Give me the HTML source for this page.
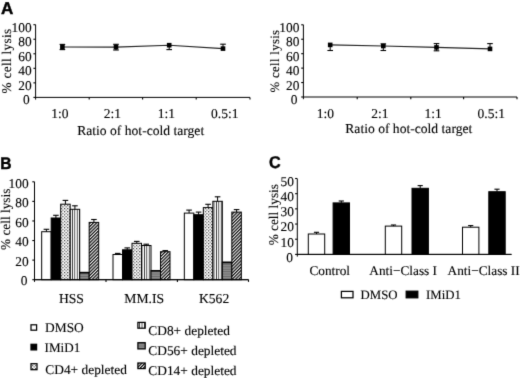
<!DOCTYPE html>
<html><head><meta charset="utf-8"><style>
html,body{margin:0;padding:0;background:#fff;}
svg{display:block;}
text{fill:#000;stroke:#000;stroke-width:0.12px;text-rendering:geometricPrecision;}
</style></head><body>
<svg width="520" height="378" viewBox="0 0 520 378">
<rect width="520" height="378" fill="#fff"/>
<defs>
<filter id="soft" filterUnits="userSpaceOnUse" x="0" y="0" width="520" height="378" color-interpolation-filters="sRGB"><feConvolveMatrix order="3" kernelMatrix="0.01134 0.08382 0.01134 0.08382 0.61935 0.08382 0.01134 0.08382 0.01134" edgeMode="duplicate"/></filter>
<pattern id="dots" patternUnits="userSpaceOnUse" width="3.2" height="3.2">
<rect width="3.2" height="3.2" fill="#fff"/>
<rect x="0" y="0" width="1.1" height="1.1" fill="#222"/>
<rect x="1.6" y="1.6" width="1.1" height="1.1" fill="#222"/>
</pattern>
<pattern id="vstripe" patternUnits="userSpaceOnUse" width="2.4" height="4">
<rect width="2.4" height="4" fill="#fff"/>
<rect x="0" y="0" width="0.8" height="4" fill="#222"/>
</pattern>
<pattern id="hstripe" patternUnits="userSpaceOnUse" width="4" height="2.4">
<rect width="4" height="2.4" fill="#8c8c8c"/>
<rect x="0" y="0" width="4" height="0.9" fill="#6a6a6a"/>
</pattern>
<pattern id="diag" patternUnits="userSpaceOnUse" width="2.3" height="2.3" patternTransform="rotate(45)">
<rect width="2.3" height="2.3" fill="#fff"/>
<rect x="0" y="0" width="1.2" height="2.3" fill="#000"/>
</pattern>
</defs>
<g filter="url(#soft)">
<text x="0.9" y="13.8" font-size="17" text-anchor="start" font-family='"Liberation Sans", sans-serif' font-weight="bold" style="stroke-width:0.45px">A</text>
<text x="0" y="0" font-size="16.8" font-family='"Liberation Sans", sans-serif' font-weight="bold" style="stroke-width:0.45px" transform="translate(0.3,169.2) scale(0.93,1)">B</text>
<text x="0" y="0" font-size="17" font-family='"Liberation Sans", sans-serif' font-weight="bold" style="stroke-width:0.45px" transform="translate(268.9,168.1) scale(0.95,1)">C</text>
<line x1="35.6" y1="24.7" x2="35.6" y2="99.60000000000001" stroke="#000" stroke-width="1.0"/>
<line x1="35.6" y1="97.4" x2="250" y2="97.4" stroke="#000" stroke-width="1.0"/>
<line x1="33.4" y1="97.4" x2="35.6" y2="97.4" stroke="#000" stroke-width="1.1"/>
<text x="29.6" y="104.4" font-size="13.4" text-anchor="end" font-family='"Liberation Serif", serif' font-weight="normal" >0</text>
<line x1="33.4" y1="82.86000000000001" x2="35.6" y2="82.86000000000001" stroke="#000" stroke-width="1.1"/>
<text x="31.6" y="89.86000000000001" font-size="13.4" text-anchor="end" font-family='"Liberation Serif", serif' font-weight="normal" >20</text>
<line x1="33.4" y1="68.32000000000001" x2="35.6" y2="68.32000000000001" stroke="#000" stroke-width="1.1"/>
<text x="31.6" y="75.32000000000001" font-size="13.4" text-anchor="end" font-family='"Liberation Serif", serif' font-weight="normal" >40</text>
<line x1="33.4" y1="53.78000000000001" x2="35.6" y2="53.78000000000001" stroke="#000" stroke-width="1.1"/>
<text x="31.6" y="60.78000000000001" font-size="13.4" text-anchor="end" font-family='"Liberation Serif", serif' font-weight="normal" >60</text>
<line x1="33.4" y1="39.24000000000001" x2="35.6" y2="39.24000000000001" stroke="#000" stroke-width="1.1"/>
<text x="31.6" y="46.24000000000001" font-size="13.4" text-anchor="end" font-family='"Liberation Serif", serif' font-weight="normal" >80</text>
<line x1="33.4" y1="24.700000000000017" x2="35.6" y2="24.700000000000017" stroke="#000" stroke-width="1.1"/>
<text x="31.6" y="31.700000000000017" font-size="13.4" text-anchor="end" font-family='"Liberation Serif", serif' font-weight="normal" >100</text>
<line x1="89.2" y1="97.4" x2="89.2" y2="99.60000000000001" stroke="#000" stroke-width="1.1"/>
<line x1="142.6" y1="97.4" x2="142.6" y2="99.60000000000001" stroke="#000" stroke-width="1.1"/>
<line x1="196.2" y1="97.4" x2="196.2" y2="99.60000000000001" stroke="#000" stroke-width="1.1"/>
<line x1="250" y1="97.4" x2="250" y2="99.60000000000001" stroke="#000" stroke-width="1.1"/>
<path d="M62.4,47.0 L116.0,47.1 L169.2,45.2 L223.0,48.6" fill="none" stroke="#222" stroke-width="1.1"/>
<line x1="62.4" y1="44.4" x2="62.4" y2="47.0" stroke="#000" stroke-width="1.0"/>
<line x1="59.6" y1="44.4" x2="65.2" y2="44.4" stroke="#000" stroke-width="1.1"/>
<line x1="62.4" y1="47.0" x2="62.4" y2="49.6" stroke="#000" stroke-width="1.0"/>
<line x1="59.6" y1="49.6" x2="65.2" y2="49.6" stroke="#000" stroke-width="1.1"/>
<rect x="60.1" y="44.7" width="4.6" height="4.6" fill="#000"/>
<line x1="116.0" y1="44.3" x2="116.0" y2="47.1" stroke="#000" stroke-width="1.0"/>
<line x1="113.2" y1="44.3" x2="118.8" y2="44.3" stroke="#000" stroke-width="1.1"/>
<line x1="116.0" y1="47.1" x2="116.0" y2="50.0" stroke="#000" stroke-width="1.0"/>
<line x1="113.2" y1="50.0" x2="118.8" y2="50.0" stroke="#000" stroke-width="1.1"/>
<rect x="113.7" y="44.800000000000004" width="4.6" height="4.6" fill="#000"/>
<line x1="169.2" y1="45.2" x2="169.2" y2="49.6" stroke="#000" stroke-width="1.0"/>
<line x1="166.39999999999998" y1="49.6" x2="172.0" y2="49.6" stroke="#000" stroke-width="1.1"/>
<rect x="166.89999999999998" y="42.900000000000006" width="4.6" height="4.6" fill="#000"/>
<line x1="223.0" y1="44.2" x2="223.0" y2="48.6" stroke="#000" stroke-width="1.0"/>
<line x1="220.2" y1="44.2" x2="225.8" y2="44.2" stroke="#000" stroke-width="1.1"/>
<rect x="220.7" y="46.300000000000004" width="4.6" height="4.6" fill="#000"/>
<text x="59.8" y="117.8" font-size="13.5" text-anchor="middle" font-family='"Liberation Serif", serif' font-weight="normal" >1:0</text>
<text x="112.5" y="117.8" font-size="13.5" text-anchor="middle" font-family='"Liberation Serif", serif' font-weight="normal" >2:1</text>
<text x="166.5" y="117.8" font-size="13.5" text-anchor="middle" font-family='"Liberation Serif", serif' font-weight="normal" >1:1</text>
<text x="224.8" y="117.8" font-size="13.5" text-anchor="middle" font-family='"Liberation Serif", serif' font-weight="normal" >0.5:1</text>
<text x="77.2" y="134.6" font-size="13.6" text-anchor="start" font-family='"Liberation Serif", serif' font-weight="normal" >Ratio of hot-cold target</text>
<text x="0.15" y="0" font-size="13.3" letter-spacing="0.3" text-anchor="middle" font-family='"Liberation Serif", serif' transform="translate(10.6,61.2) rotate(-90)">% cell lysis</text>
<line x1="303.4" y1="24.8" x2="303.4" y2="99.2" stroke="#000" stroke-width="1.0"/>
<line x1="303.4" y1="97.0" x2="517" y2="97.0" stroke="#000" stroke-width="1.0"/>
<line x1="301.2" y1="97.0" x2="303.4" y2="97.0" stroke="#000" stroke-width="1.1"/>
<text x="297.4" y="104.0" font-size="13.4" text-anchor="end" font-family='"Liberation Serif", serif' font-weight="normal" >0</text>
<line x1="301.2" y1="82.56" x2="303.4" y2="82.56" stroke="#000" stroke-width="1.1"/>
<text x="299.4" y="89.56" font-size="13.4" text-anchor="end" font-family='"Liberation Serif", serif' font-weight="normal" >20</text>
<line x1="301.2" y1="68.12" x2="303.4" y2="68.12" stroke="#000" stroke-width="1.1"/>
<text x="299.4" y="75.12" font-size="13.4" text-anchor="end" font-family='"Liberation Serif", serif' font-weight="normal" >40</text>
<line x1="301.2" y1="53.68" x2="303.4" y2="53.68" stroke="#000" stroke-width="1.1"/>
<text x="299.4" y="60.68" font-size="13.4" text-anchor="end" font-family='"Liberation Serif", serif' font-weight="normal" >60</text>
<line x1="301.2" y1="39.24" x2="303.4" y2="39.24" stroke="#000" stroke-width="1.1"/>
<text x="299.4" y="46.24" font-size="13.4" text-anchor="end" font-family='"Liberation Serif", serif' font-weight="normal" >80</text>
<line x1="301.2" y1="24.799999999999997" x2="303.4" y2="24.799999999999997" stroke="#000" stroke-width="1.1"/>
<text x="299.4" y="31.799999999999997" font-size="13.4" text-anchor="end" font-family='"Liberation Serif", serif' font-weight="normal" >100</text>
<line x1="357.2" y1="97.0" x2="357.2" y2="99.2" stroke="#000" stroke-width="1.1"/>
<line x1="410.8" y1="97.0" x2="410.8" y2="99.2" stroke="#000" stroke-width="1.1"/>
<line x1="463.6" y1="97.0" x2="463.6" y2="99.2" stroke="#000" stroke-width="1.1"/>
<line x1="517" y1="97.0" x2="517" y2="99.2" stroke="#000" stroke-width="1.1"/>
<path d="M330.2,44.9 L383.3,46.0 L436.5,47.4 L490.0,48.9" fill="none" stroke="#222" stroke-width="1.1"/>
<line x1="330.2" y1="44.9" x2="330.2" y2="50.5" stroke="#000" stroke-width="1.0"/>
<line x1="327.4" y1="50.5" x2="333.0" y2="50.5" stroke="#000" stroke-width="1.1"/>
<rect x="327.9" y="42.6" width="4.6" height="4.6" fill="#000"/>
<line x1="383.3" y1="43.9" x2="383.3" y2="46.0" stroke="#000" stroke-width="1.0"/>
<line x1="380.5" y1="43.9" x2="386.1" y2="43.9" stroke="#000" stroke-width="1.1"/>
<line x1="383.3" y1="46.0" x2="383.3" y2="50.5" stroke="#000" stroke-width="1.0"/>
<line x1="380.5" y1="50.5" x2="386.1" y2="50.5" stroke="#000" stroke-width="1.1"/>
<rect x="381.0" y="43.7" width="4.6" height="4.6" fill="#000"/>
<line x1="436.5" y1="43.6" x2="436.5" y2="47.4" stroke="#000" stroke-width="1.0"/>
<line x1="433.7" y1="43.6" x2="439.3" y2="43.6" stroke="#000" stroke-width="1.1"/>
<line x1="436.5" y1="47.4" x2="436.5" y2="50.8" stroke="#000" stroke-width="1.0"/>
<line x1="433.7" y1="50.8" x2="439.3" y2="50.8" stroke="#000" stroke-width="1.1"/>
<rect x="434.2" y="45.1" width="4.6" height="4.6" fill="#000"/>
<line x1="490.0" y1="43.6" x2="490.0" y2="48.9" stroke="#000" stroke-width="1.0"/>
<line x1="487.2" y1="43.6" x2="492.8" y2="43.6" stroke="#000" stroke-width="1.1"/>
<rect x="487.7" y="46.6" width="4.6" height="4.6" fill="#000"/>
<text x="325.4" y="117.8" font-size="13.5" text-anchor="middle" font-family='"Liberation Serif", serif' font-weight="normal" >1:0</text>
<text x="380.0" y="117.8" font-size="13.5" text-anchor="middle" font-family='"Liberation Serif", serif' font-weight="normal" >2:1</text>
<text x="433.1" y="117.8" font-size="13.5" text-anchor="middle" font-family='"Liberation Serif", serif' font-weight="normal" >1:1</text>
<text x="491.2" y="117.8" font-size="13.5" text-anchor="middle" font-family='"Liberation Serif", serif' font-weight="normal" >0.5:1</text>
<text x="345.3" y="132.5" font-size="13.6" text-anchor="start" font-family='"Liberation Serif", serif' font-weight="normal" >Ratio of hot-cold target</text>
<text x="0.16" y="0" font-size="12.8" letter-spacing="0.32" text-anchor="middle" font-family='"Liberation Serif", serif' transform="translate(279.0,61.2) rotate(-90)">% cell lysis</text>
<line x1="34.5" y1="181.8" x2="34.5" y2="281.9" stroke="#000" stroke-width="1.0"/>
<line x1="34.5" y1="279.7" x2="248.5" y2="279.7" stroke="#000" stroke-width="1.0"/>
<line x1="32.3" y1="279.7" x2="34.5" y2="279.7" stroke="#000" stroke-width="1.1"/>
<text x="27.400000000000002" y="285.4" font-size="13.4" text-anchor="end" font-family='"Liberation Serif", serif' font-weight="normal" >0</text>
<line x1="32.3" y1="260.12" x2="34.5" y2="260.12" stroke="#000" stroke-width="1.1"/>
<text x="28.6" y="265.82" font-size="13.4" text-anchor="end" font-family='"Liberation Serif", serif' font-weight="normal" >20</text>
<line x1="32.3" y1="240.54" x2="34.5" y2="240.54" stroke="#000" stroke-width="1.1"/>
<text x="28.6" y="246.23999999999998" font-size="13.4" text-anchor="end" font-family='"Liberation Serif", serif' font-weight="normal" >40</text>
<line x1="32.3" y1="220.95999999999998" x2="34.5" y2="220.95999999999998" stroke="#000" stroke-width="1.1"/>
<text x="28.6" y="226.65999999999997" font-size="13.4" text-anchor="end" font-family='"Liberation Serif", serif' font-weight="normal" >60</text>
<line x1="32.3" y1="201.38" x2="34.5" y2="201.38" stroke="#000" stroke-width="1.1"/>
<text x="28.6" y="207.07999999999998" font-size="13.4" text-anchor="end" font-family='"Liberation Serif", serif' font-weight="normal" >80</text>
<line x1="32.3" y1="181.8" x2="34.5" y2="181.8" stroke="#000" stroke-width="1.1"/>
<text x="28.6" y="187.5" font-size="13.4" text-anchor="end" font-family='"Liberation Serif", serif' font-weight="normal" >100</text>
<line x1="106" y1="279.7" x2="106" y2="281.9" stroke="#000" stroke-width="1.1"/>
<line x1="177.4" y1="279.7" x2="177.4" y2="281.9" stroke="#000" stroke-width="1.1"/>
<line x1="248.5" y1="279.7" x2="248.5" y2="281.9" stroke="#000" stroke-width="1.1"/>
<rect x="41.67" y="231.7" width="9.5" height="48.0" fill="#fff" stroke="#000" stroke-width="1.0"/>
<line x1="46.42" y1="229.3" x2="46.42" y2="231.7" stroke="#000" stroke-width="1.0"/>
<line x1="43.620000000000005" y1="229.3" x2="49.22" y2="229.3" stroke="#000" stroke-width="1.1"/>
<rect x="51.17" y="218.0" width="9.5" height="61.69999999999999" fill="#000" stroke="#000" stroke-width="1.0"/>
<line x1="55.92" y1="215.3" x2="55.92" y2="218.0" stroke="#000" stroke-width="1.0"/>
<line x1="53.120000000000005" y1="215.3" x2="58.72" y2="215.3" stroke="#000" stroke-width="1.1"/>
<rect x="60.67" y="204.2" width="9.5" height="75.5" fill="url(#dots)" stroke="#000" stroke-width="1.0"/>
<line x1="65.42" y1="200.4" x2="65.42" y2="204.2" stroke="#000" stroke-width="1.0"/>
<line x1="62.620000000000005" y1="200.4" x2="68.22" y2="200.4" stroke="#000" stroke-width="1.1"/>
<rect x="70.17" y="209.3" width="9.5" height="70.39999999999998" fill="url(#vstripe)" stroke="#000" stroke-width="1.0"/>
<line x1="74.92" y1="205.8" x2="74.92" y2="209.3" stroke="#000" stroke-width="1.0"/>
<line x1="72.12" y1="205.8" x2="77.72" y2="205.8" stroke="#000" stroke-width="1.1"/>
<rect x="79.67" y="272.4" width="9.5" height="7.300000000000011" fill="url(#hstripe)" stroke="#000" stroke-width="1.0"/>
<line x1="79.67" y1="272.7" x2="89.17" y2="272.7" stroke="#000" stroke-width="1.6"/>
<rect x="89.17" y="222.4" width="9.5" height="57.29999999999998" fill="url(#diag)" stroke="#000" stroke-width="1.0"/>
<line x1="93.92" y1="219.5" x2="93.92" y2="222.4" stroke="#000" stroke-width="1.0"/>
<line x1="91.12" y1="219.5" x2="96.72" y2="219.5" stroke="#000" stroke-width="1.1"/>
<rect x="113.0" y="254.5" width="9.5" height="25.19999999999999" fill="#fff" stroke="#000" stroke-width="1.0"/>
<line x1="117.75" y1="253.4" x2="117.75" y2="254.5" stroke="#000" stroke-width="1.0"/>
<line x1="114.95" y1="253.4" x2="120.55" y2="253.4" stroke="#000" stroke-width="1.1"/>
<rect x="122.5" y="249.8" width="9.5" height="29.899999999999977" fill="#000" stroke="#000" stroke-width="1.0"/>
<line x1="127.25" y1="247.9" x2="127.25" y2="249.8" stroke="#000" stroke-width="1.0"/>
<line x1="124.45" y1="247.9" x2="130.05" y2="247.9" stroke="#000" stroke-width="1.1"/>
<rect x="132.0" y="243.3" width="9.5" height="36.39999999999998" fill="url(#dots)" stroke="#000" stroke-width="1.0"/>
<line x1="136.75" y1="241.4" x2="136.75" y2="243.3" stroke="#000" stroke-width="1.0"/>
<line x1="133.95" y1="241.4" x2="139.55" y2="241.4" stroke="#000" stroke-width="1.1"/>
<rect x="141.5" y="245.5" width="9.5" height="34.19999999999999" fill="url(#vstripe)" stroke="#000" stroke-width="1.0"/>
<line x1="146.25" y1="244.2" x2="146.25" y2="245.5" stroke="#000" stroke-width="1.0"/>
<line x1="143.45" y1="244.2" x2="149.05" y2="244.2" stroke="#000" stroke-width="1.1"/>
<rect x="151.0" y="270.5" width="9.5" height="9.199999999999989" fill="url(#hstripe)" stroke="#000" stroke-width="1.0"/>
<line x1="151.0" y1="270.8" x2="160.5" y2="270.8" stroke="#000" stroke-width="1.6"/>
<rect x="160.5" y="251.7" width="9.5" height="28.0" fill="url(#diag)" stroke="#000" stroke-width="1.0"/>
<line x1="165.25" y1="250.6" x2="165.25" y2="251.7" stroke="#000" stroke-width="1.0"/>
<line x1="162.45" y1="250.6" x2="168.05" y2="250.6" stroke="#000" stroke-width="1.1"/>
<rect x="184.33" y="213.1" width="9.5" height="66.6" fill="#fff" stroke="#000" stroke-width="1.0"/>
<line x1="189.08" y1="210.1" x2="189.08" y2="213.1" stroke="#000" stroke-width="1.0"/>
<line x1="186.28" y1="210.1" x2="191.88000000000002" y2="210.1" stroke="#000" stroke-width="1.1"/>
<rect x="193.83" y="214.7" width="9.5" height="65.0" fill="#000" stroke="#000" stroke-width="1.0"/>
<line x1="198.58" y1="212.1" x2="198.58" y2="214.7" stroke="#000" stroke-width="1.0"/>
<line x1="195.78" y1="212.1" x2="201.38000000000002" y2="212.1" stroke="#000" stroke-width="1.1"/>
<rect x="203.33" y="207.6" width="9.5" height="72.1" fill="url(#dots)" stroke="#000" stroke-width="1.0"/>
<line x1="208.08" y1="204.3" x2="208.08" y2="207.6" stroke="#000" stroke-width="1.0"/>
<line x1="205.28" y1="204.3" x2="210.88000000000002" y2="204.3" stroke="#000" stroke-width="1.1"/>
<rect x="212.83" y="201.3" width="9.5" height="78.39999999999998" fill="url(#vstripe)" stroke="#000" stroke-width="1.0"/>
<line x1="217.58" y1="196.8" x2="217.58" y2="201.3" stroke="#000" stroke-width="1.0"/>
<line x1="214.78" y1="196.8" x2="220.38000000000002" y2="196.8" stroke="#000" stroke-width="1.1"/>
<rect x="222.33" y="262.2" width="9.5" height="17.5" fill="url(#hstripe)" stroke="#000" stroke-width="1.0"/>
<line x1="222.33" y1="262.5" x2="231.83" y2="262.5" stroke="#000" stroke-width="1.6"/>
<rect x="231.83" y="212.1" width="9.5" height="67.6" fill="url(#diag)" stroke="#000" stroke-width="1.0"/>
<line x1="236.58" y1="209.6" x2="236.58" y2="212.1" stroke="#000" stroke-width="1.0"/>
<line x1="233.78" y1="209.6" x2="239.38000000000002" y2="209.6" stroke="#000" stroke-width="1.1"/>
<line x1="34.5" y1="279.7" x2="248.5" y2="279.7" stroke="#000" stroke-width="1.0"/>
<text x="71.35" y="303.4" font-size="13.6" text-anchor="middle" font-family='"Liberation Serif", serif' font-weight="normal" >HSS</text>
<text x="144.2" y="303.4" font-size="13.6" text-anchor="middle" font-family='"Liberation Serif", serif' font-weight="normal" >MM.IS</text>
<text x="214.1" y="303.4" font-size="13.6" text-anchor="middle" font-family='"Liberation Serif", serif' font-weight="normal" >K562</text>
<text x="0.0" y="0" font-size="13.3" letter-spacing="0" text-anchor="middle" font-family='"Liberation Serif", serif' transform="translate(9.8,219.3) rotate(-90)">% cell lysis</text>
<rect x="31" y="324.8" width="5.6" height="5.4" fill="#fff" stroke="#000" stroke-width="1.25"/>
<text x="45.1" y="332.2" font-size="13.4" text-anchor="start" font-family='"Liberation Serif", serif' font-weight="normal" >DMSO</text>
<rect x="31" y="344.3" width="5.6" height="5.6" fill="#000" stroke="#000" stroke-width="1.25"/>
<text x="44.6" y="351.6" font-size="13.1" text-anchor="start" font-family='"Liberation Serif", serif' font-weight="normal" >IMiD1</text>
<rect x="31" y="363.7" width="6.0" height="6.0" fill="url(#dots)" stroke="#000" stroke-width="1.25"/>
<text x="45.3" y="374.2" font-size="13.4" text-anchor="start" font-family='"Liberation Serif", serif' font-weight="normal" >CD4+ depleted</text>
<rect x="137.9" y="322.4" width="7.3" height="5.8" fill="url(#vstripe)" stroke="#000" stroke-width="1.25"/>
<text x="148.3" y="335.0" font-size="13.4" text-anchor="start" font-family='"Liberation Serif", serif' font-weight="normal" >CD8+ depleted</text>
<rect x="137.9" y="342.7" width="7.3" height="6.2" fill="url(#hstripe)" stroke="#000" stroke-width="1.25"/>
<text x="148.3" y="355.0" font-size="13.4" text-anchor="start" font-family='"Liberation Serif", serif' font-weight="normal" >CD56+ depleted</text>
<rect x="137.9" y="363.0" width="7.3" height="5.6" fill="url(#diag)" stroke="#000" stroke-width="1.25"/>
<text x="148.3" y="374.7" font-size="13.4" text-anchor="start" font-family='"Liberation Serif", serif' font-weight="normal" >CD14+ depleted</text>
<line x1="297.3" y1="178.7" x2="297.3" y2="256.6" stroke="#000" stroke-width="1.0"/>
<line x1="297.3" y1="254.4" x2="511.5" y2="254.4" stroke="#000" stroke-width="1.0"/>
<line x1="295.1" y1="254.4" x2="297.3" y2="254.4" stroke="#000" stroke-width="1.1"/>
<text x="293.0" y="261.8" font-size="13.4" text-anchor="end" font-family='"Liberation Serif", serif' font-weight="normal" >0</text>
<line x1="295.1" y1="239.22" x2="297.3" y2="239.22" stroke="#000" stroke-width="1.1"/>
<text x="294.0" y="246.62" font-size="13.4" text-anchor="end" font-family='"Liberation Serif", serif' font-weight="normal" >10</text>
<line x1="295.1" y1="224.04000000000002" x2="297.3" y2="224.04000000000002" stroke="#000" stroke-width="1.1"/>
<text x="294.0" y="231.44000000000003" font-size="13.4" text-anchor="end" font-family='"Liberation Serif", serif' font-weight="normal" >20</text>
<line x1="295.1" y1="208.86" x2="297.3" y2="208.86" stroke="#000" stroke-width="1.1"/>
<text x="294.0" y="216.26000000000002" font-size="13.4" text-anchor="end" font-family='"Liberation Serif", serif' font-weight="normal" >30</text>
<line x1="295.1" y1="193.68" x2="297.3" y2="193.68" stroke="#000" stroke-width="1.1"/>
<text x="294.0" y="201.08" font-size="13.4" text-anchor="end" font-family='"Liberation Serif", serif' font-weight="normal" >40</text>
<line x1="295.1" y1="178.5" x2="297.3" y2="178.5" stroke="#000" stroke-width="1.1"/>
<text x="294.0" y="185.9" font-size="13.4" text-anchor="end" font-family='"Liberation Serif", serif' font-weight="normal" >50</text>
<rect x="308.3" y="234.0" width="16.4" height="20.400000000000006" fill="#fff" stroke="#000" stroke-width="1.0"/>
<line x1="316.5" y1="232.3" x2="316.5" y2="234.0" stroke="#000" stroke-width="1.0"/>
<line x1="313.9" y1="232.3" x2="319.1" y2="232.3" stroke="#000" stroke-width="1.1"/>
<rect x="333.1" y="202.9" width="16.4" height="51.5" fill="#000" stroke="#000" stroke-width="1.0"/>
<line x1="341.3" y1="201.0" x2="341.3" y2="202.9" stroke="#000" stroke-width="1.0"/>
<line x1="338.7" y1="201.0" x2="343.90000000000003" y2="201.0" stroke="#000" stroke-width="1.1"/>
<rect x="385.3" y="226.1" width="16.4" height="28.30000000000001" fill="#fff" stroke="#000" stroke-width="1.0"/>
<line x1="393.5" y1="225.0" x2="393.5" y2="226.1" stroke="#000" stroke-width="1.0"/>
<line x1="390.9" y1="225.0" x2="396.1" y2="225.0" stroke="#000" stroke-width="1.1"/>
<rect x="412.0" y="188.3" width="16.4" height="66.1" fill="#000" stroke="#000" stroke-width="1.0"/>
<line x1="420.2" y1="185.6" x2="420.2" y2="188.3" stroke="#000" stroke-width="1.0"/>
<line x1="417.59999999999997" y1="185.6" x2="422.8" y2="185.6" stroke="#000" stroke-width="1.1"/>
<rect x="462.5" y="227.2" width="16.4" height="27.200000000000017" fill="#fff" stroke="#000" stroke-width="1.0"/>
<line x1="470.7" y1="225.6" x2="470.7" y2="227.2" stroke="#000" stroke-width="1.0"/>
<line x1="468.09999999999997" y1="225.6" x2="473.3" y2="225.6" stroke="#000" stroke-width="1.1"/>
<rect x="488.8" y="191.7" width="16.4" height="62.70000000000002" fill="#000" stroke="#000" stroke-width="1.0"/>
<line x1="497.0" y1="189.2" x2="497.0" y2="191.7" stroke="#000" stroke-width="1.0"/>
<line x1="494.4" y1="189.2" x2="499.6" y2="189.2" stroke="#000" stroke-width="1.1"/>
<line x1="297.3" y1="254.4" x2="511.5" y2="254.4" stroke="#000" stroke-width="1.0"/>
<text x="309.4" y="274.7" font-size="13.3" text-anchor="start" font-family='"Liberation Serif", serif' font-weight="normal" >Control</text>
<text x="369.3" y="274.7" font-size="13.3" text-anchor="start" font-family='"Liberation Serif", serif' font-weight="normal" >Anti−Class I</text>
<text x="447.6" y="274.7" font-size="13.3" text-anchor="start" font-family='"Liberation Serif", serif' font-weight="normal" >Anti−Class II</text>
<text x="0.0" y="0" font-size="13.3" letter-spacing="0" text-anchor="middle" font-family='"Liberation Serif", serif' transform="translate(278.1,214.7) rotate(-90)">% cell lysis</text>
<rect x="341.4" y="291.4" width="11.6" height="6.4" fill="#fff" stroke="#000" stroke-width="1.25"/>
<text x="360.6" y="299.0" font-size="12.8" text-anchor="start" font-family='"Liberation Serif", serif' font-weight="normal" >DMSO</text>
<rect x="406.2" y="291.2" width="11.6" height="6.6" fill="#000" stroke="#000" stroke-width="1.25"/>
<text x="426.0" y="299.2" font-size="12.8" text-anchor="start" font-family='"Liberation Serif", serif' font-weight="normal" >IMiD1</text>
</g>
</svg>
</body></html>
